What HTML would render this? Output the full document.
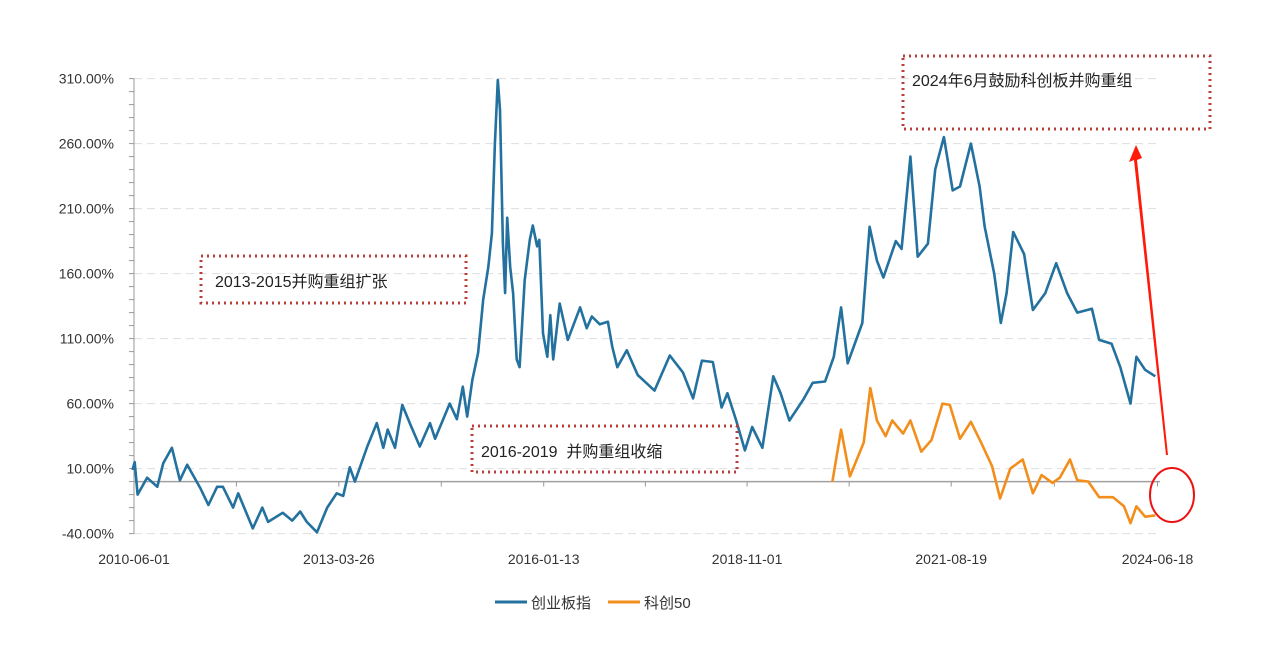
<!DOCTYPE html>
<html><head><meta charset="utf-8"><style>
html,body{margin:0;padding:0;background:#fff;}
body{width:1269px;height:646px;overflow:hidden;font-family:"Liberation Sans","Noto Sans CJK SC",sans-serif;}
svg text{font-family:"Liberation Sans","Noto Sans CJK SC",sans-serif;}
</style></head><body>
<svg id="chart" width="1269" height="646" xmlns="http://www.w3.org/2000/svg">
<g id="grid"></g>
<g id="axes"></g>
<g id="series"></g>
<g>
<rect x="201" y="256" width="265" height="47" fill="none" stroke="#b8403c" stroke-width="3" stroke-dasharray="2 4"/>
<text x="215" y="287" font-size="16" fill="#222">2013-2015并购重组扩张</text></g>
<g>
<rect x="472" y="426" width="265" height="46" fill="none" stroke="#b8403c" stroke-width="3" stroke-dasharray="2 4"/>
<text x="481" y="457" font-size="16" fill="#222" xml:space="preserve">2016-2019  并购重组收缩</text></g>
<g>
<rect x="903" y="56" width="307" height="73" fill="none" stroke="#b8403c" stroke-width="3" stroke-dasharray="2 4"/>
<text x="912" y="86" font-size="16" fill="#222">2024年6月鼓励科创板并购重组</text></g>
<g>
<polygon points="1168,455 1166,455 1134,160 1129,162 1136,145 1142,158 1137,160" fill="#ff1a0a"/>
</g>
<ellipse cx="1172" cy="495" rx="22" ry="27" fill="none" stroke="#ee1111" stroke-width="2"/>
<g>
<line x1="495" y1="602" x2="527" y2="602" stroke="#23719f" stroke-width="3"/>
<text x="531" y="608" font-size="15" fill="#333">创业板指</text>
<line x1="608" y1="602" x2="640" y2="602" stroke="#f28e1c" stroke-width="3"/>
<text x="644" y="608" font-size="15" fill="#333">科创50</text>
</g>
</svg>
<script>
const yTicks=[-40,10,60,110,160,210,260,310];
const xLabels=["2010-06-01","2013-03-26","2016-01-13","2018-11-01","2021-08-19","2024-06-18"];
const xLabelTimes=[2010.42,2013.23,2016.04,2018.83,2021.63,2024.46];
const cyT=[2010.40,2010.43,2010.47,2010.60,2010.74,2010.82,2010.94,2011.05,2011.15,2011.33,2011.44,2011.56,2011.64,2011.78,2011.85,2012.05,2012.18,2012.26,2012.46,2012.59,2012.70,2012.79,2012.93,2013.07,2013.20,2013.29,2013.38,2013.45,2013.62,2013.75,2013.84,2013.90,2014.00,2014.10,2014.21,2014.34,2014.48,2014.55,2014.75,2014.85,2014.93,2014.99,2015.06,2015.14,2015.21,2015.28,2015.33,2015.37,2015.41,2015.44,2015.48,2015.51,2015.54,2015.58,2015.62,2015.67,2015.71,2015.78,2015.85,2015.89,2015.95,2015.98,2016.03,2016.09,2016.13,2016.17,2016.26,2016.37,2016.54,2016.63,2016.70,2016.81,2016.92,2016.98,2017.05,2017.18,2017.33,2017.56,2017.77,2017.95,2018.09,2018.21,2018.36,2018.48,2018.56,2018.68,2018.80,2018.90,2019.04,2019.19,2019.29,2019.41,2019.60,2019.73,2019.90,2020.02,2020.12,2020.21,2020.41,2020.51,2020.61,2020.70,2020.87,2020.95,2021.07,2021.17,2021.31,2021.41,2021.53,2021.65,2021.75,2021.90,2022.02,2022.09,2022.22,2022.31,2022.39,2022.48,2022.63,2022.75,2022.92,2023.07,2023.22,2023.36,2023.56,2023.66,2023.83,2023.95,2024.09,2024.17,2024.29,2024.43];
const cyV=[9,15,-10,3,-4,14,26,1,13,-5,-18,-4,-4,-20,-9,-36,-20,-31,-24,-30,-23,-31,-39,-20,-9,-11,11,0,27,45,26,40,26,59,44,27,45,33,60,48,73,50,78,99,140,165,191,260,309,286,183,145,203,165,145,94,88,155,186,197,181,186,114,96,128,94,137,109,134,118,127,121,123,104,88,101,82,70,97,84,64,93,92,57,68,47,24,42,26,81,68,47,63,76,77,96,134,91,122,196,170,157,185,179,250,173,183,240,265,224,227,260,227,196,160,122,145,192,175,132,145,168,145,130,133,109,106,88,60,96,86,81];
const kcT=[2020.00,2020.12,2020.24,2020.43,2020.52,2020.61,2020.73,2020.82,2020.97,2021.07,2021.22,2021.36,2021.51,2021.61,2021.75,2021.90,2022.04,2022.19,2022.30,2022.44,2022.61,2022.75,2022.87,2023.02,2023.12,2023.26,2023.36,2023.51,2023.66,2023.85,2024.00,2024.09,2024.17,2024.29,2024.43];
const kcV=[0,40,4,30,72,47,35,47,37,47,23,32,60,59,33,46,30,12,-13,10,17,-9,5,-1,3,17,1,0,-12,-12,-19,-32,-19,-27,-26];

const NS="http://www.w3.org/2000/svg";
const X0=134,T0=2010.42,PXY=72.9,Y0=481.6,PPV=1.3,XR=1160;
const xs=t=>X0+(t-T0)*PXY;
const ys=v=>Y0-v*PPV;
function mk(tag,attrs,parent){const e=document.createElementNS(NS,tag);for(const k in attrs)e.setAttribute(k,attrs[k]);parent.appendChild(e);return e;}
const grid=document.getElementById('grid'),axes=document.getElementById('axes'),series=document.getElementById('series');
yTicks.forEach(v=>{
  const g=mk('line',{x1:X0,x2:XR,y1:ys(v),y2:ys(v),stroke:'#dedede','stroke-dasharray':'8 5'},grid);
  
  
  const t=mk('text',{x:114,y:ys(v)+5,'text-anchor':'end','font-size':14,fill:'#333'},axes);
  t.textContent=v.toFixed(2)+'%';
  
  
});
for(let v=-40;v<=310;v+=10){mk('line',{x1:X0-5,x2:X0,y1:ys(v),y2:ys(v),stroke:'#999'},axes);}
mk('line',{x1:X0,x2:X0,y1:ys(310),y2:ys(-40),stroke:'#999'},axes);
const zl=mk('line',{x1:X0,x2:XR,y1:Y0,y2:Y0,stroke:'#a0a0a0','stroke-width':1.5},axes);


for(let i=0;i<xLabels.length;i++){
  const x=xs(xLabelTimes[i]);
  mk('line',{x1:x,x2:x,y1:Y0,y2:Y0+5,stroke:'#999'},axes);
  if(i<xLabels.length-1){const xm=(x+xs(xLabelTimes[i+1]))/2;mk('line',{x1:xm,x2:xm,y1:Y0,y2:Y0+5,stroke:'#999'},axes);}
  const t=mk('text',{x:x,y:564,'text-anchor':'middle','font-size':14,fill:'#333'},axes);
  t.textContent=xLabels[i];
  
  
}
function line(T,V,color,name){
  const d=T.map((t,i)=>(i?'L':'M')+xs(t).toFixed(1)+','+ys(V[i]).toFixed(1)).join('');
  const p=mk('path',{d:d,fill:'none',stroke:color,'stroke-width':2.6,'stroke-linejoin':'round'},series);
  
  
}
line(cyT,cyV,'#23719f','chinext-line');
line(kcT,kcV,'#f28e1c','star50-line');
</script>
</body></html>
